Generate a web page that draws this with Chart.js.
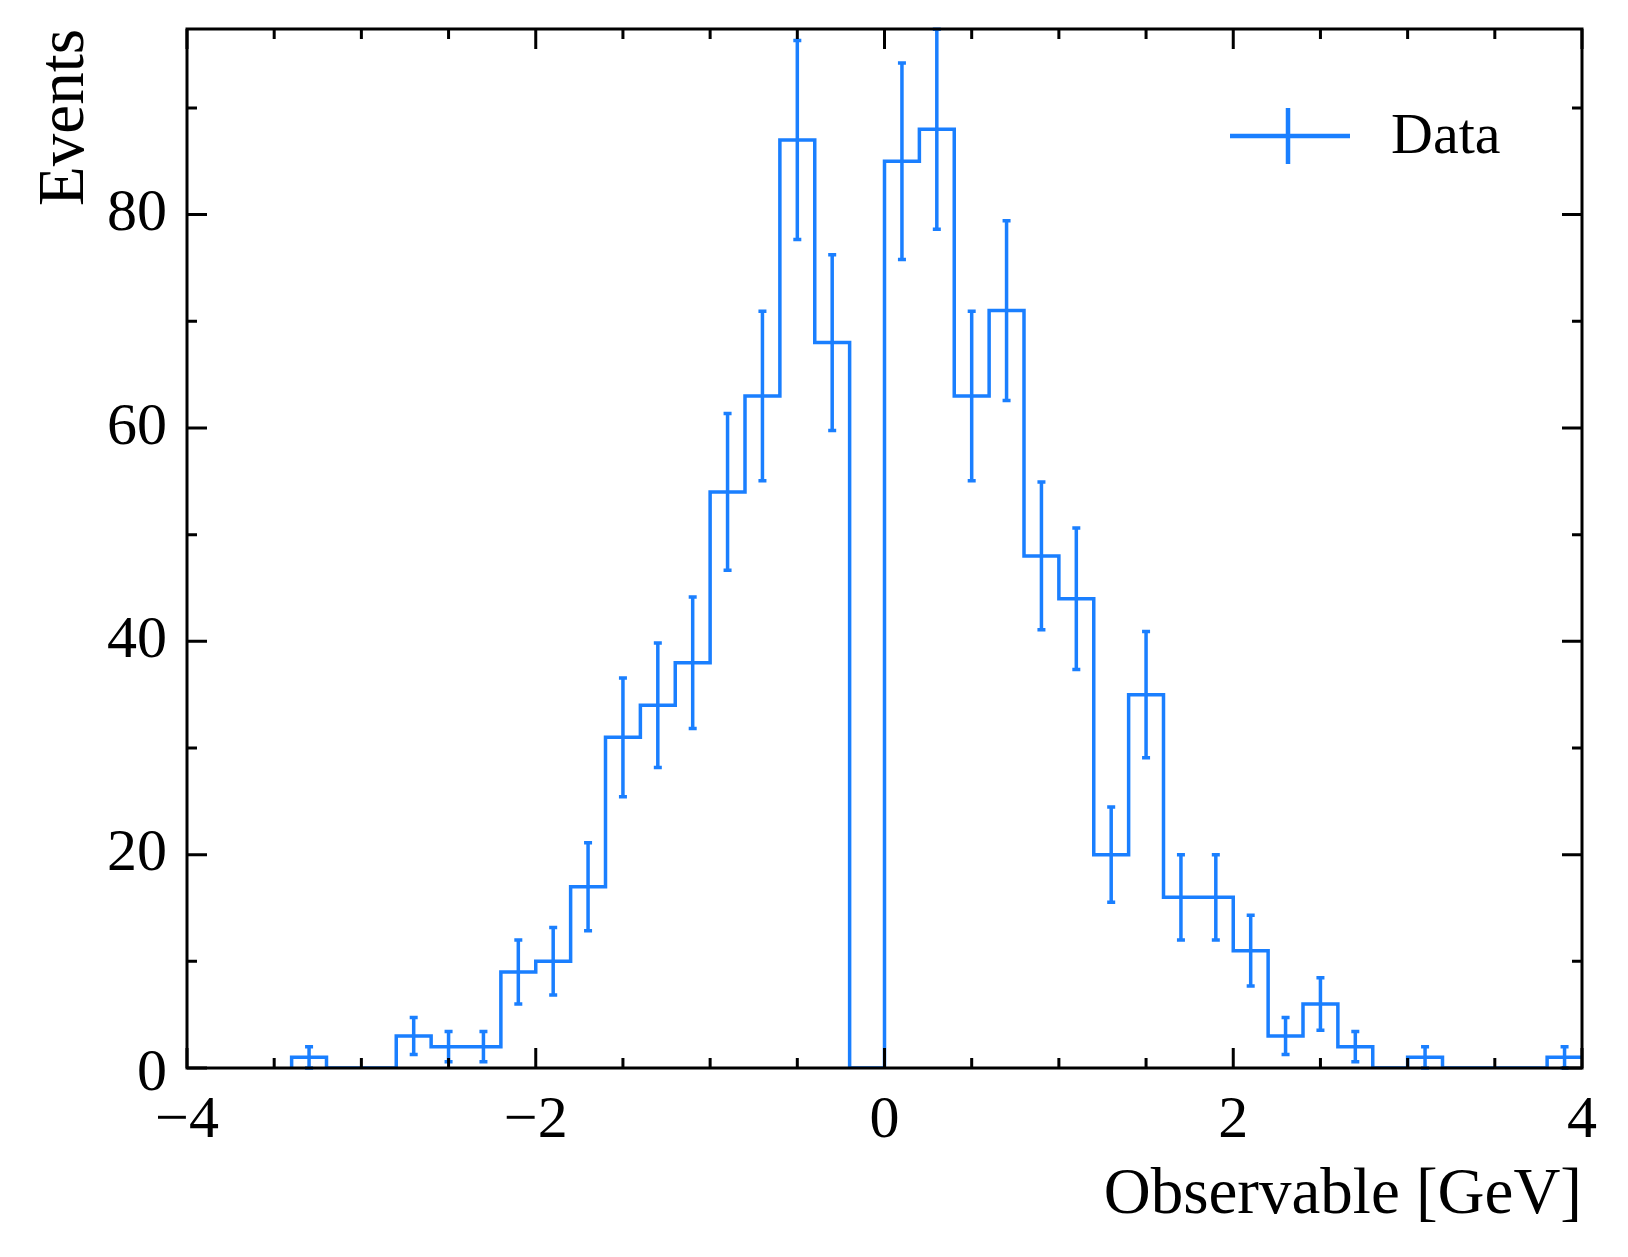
<!DOCTYPE html>
<html><head><meta charset="utf-8">
<script src="https://cdn.jsdelivr.net/npm/chart.js@4"></script>
<style>body{margin:0;background:#fff}</style>
</head><body>
<canvas id="c" width="1628" height="1257"></canvas>
<script>
// bin centres (width 0.2) and event counts
const binCenters = [-3.3,-3.1,-2.9,-2.7,-2.5,-2.3,-2.1,-1.9,-1.7,-1.5,-1.3,-1.1,-0.9,-0.7,-0.5,-0.3,-0.1,
  0.1,0.3,0.5,0.7,0.9,1.1,1.3,1.5,1.7,1.9,2.1,2.3,2.5,2.7,2.9,3.1,3.3,3.5,3.7,3.9];
const counts = [1,0,0,3,2,2,9,10,17,31,34,38,54,63,87,68,0,
  85,88,63,71,48,44,20,35,16,16,11,3,6,2,0,1,0,0,0,1];
const xTicks = [-4,-2,0,2,4];
const yTicks = [0,20,40,60,80];
const binWidth = 0.2;
const color = "#1a7fff";
const serif = "'Liberation Serif', 'DejaVu Serif', serif";

const stepPts = [{x: binCenters[0] - binWidth/2, y: 0}];
binCenters.forEach(function (c, i) {
  stepPts.push({x: c - binWidth/2, y: counts[i]});
  stepPts.push({x: c + binWidth/2, y: counts[i]});
});

const decor = {
  id: "decor",
  afterDatasetsDraw: function (chart) {
    const ctx = chart.ctx, xs = chart.scales.x, ys = chart.scales.y, a = chart.chartArea;
    ctx.save();
    // error bars
    ctx.strokeStyle = color; ctx.lineWidth = 3.5;
    binCenters.forEach(function (c, i) {
      const n = counts[i];
      if (n <= 0) return;
      const e = Math.sqrt(n), px = xs.getPixelForValue(c);
      const y1 = Math.min(a.bottom, ys.getPixelForValue(n - e)), y2 = Math.max(a.top, ys.getPixelForValue(n + e));
      ctx.beginPath(); ctx.moveTo(px, y1); ctx.lineTo(px, y2);
      if (ys.getPixelForValue(n - e) <= a.bottom) { ctx.moveTo(px-4, y1); ctx.lineTo(px+4, y1); }
      if (ys.getPixelForValue(n + e) >= a.top) { ctx.moveTo(px-4, y2); ctx.lineTo(px+4, y2); }
      ctx.stroke();
    });
    // frame and ticks
    ctx.strokeStyle = "#000"; ctx.lineWidth = 3;
    ctx.strokeRect(a.left, a.top, a.right - a.left, a.bottom - a.top);
    ctx.beginPath();
    for (let v = -4; v <= 4.001; v += 0.5) {
      const px = xs.getPixelForValue(v), L = Math.abs(v % 2) < 1e-6 ? 20 : 10;
      ctx.moveTo(px, a.bottom); ctx.lineTo(px, a.bottom - L);
      ctx.moveTo(px, a.top); ctx.lineTo(px, a.top + L);
    }
    for (let v = 0; v <= 97; v += 10) {
      const py = ys.getPixelForValue(v), L = v % 20 === 0 ? 20 : 10;
      ctx.moveTo(a.left, py); ctx.lineTo(a.left + L, py);
      ctx.moveTo(a.right, py); ctx.lineTo(a.right - L, py);
    }
    ctx.stroke();
    // tick labels
    ctx.fillStyle = "#000"; ctx.font = "60px " + serif;
    ctx.textAlign = "center"; ctx.textBaseline = "middle";
    xTicks.forEach(function (v) {
      ctx.fillText(v < 0 ? "\u2212" + Math.abs(v) : String(v), xs.getPixelForValue(v), 1121);
    });
    ctx.textAlign = "right";
    yTicks.forEach(function (v) {
      ctx.fillText(String(v), a.left - 20, ys.getPixelForValue(v) + (v === 0 ? 6 : 0));
    });
    // axis titles
    ctx.font = "65px " + serif;
    ctx.textAlign = "right"; ctx.textBaseline = "alphabetic";
    ctx.fillText("Observable [GeV]", a.right, 1213);
    ctx.save(); ctx.translate(83, a.top); ctx.rotate(-Math.PI/2);
    ctx.fillText("Events", 0, 0); ctx.restore();
    // legend
    ctx.strokeStyle = color; ctx.lineWidth = 4.5;
    ctx.beginPath(); ctx.moveTo(1230, 136); ctx.lineTo(1350, 136);
    ctx.moveTo(1288, 108); ctx.lineTo(1288, 164); ctx.stroke();
    ctx.font = "58px " + serif; ctx.textAlign = "left"; ctx.textBaseline = "middle";
    ctx.fillText("Data", 1391, 138);
    ctx.restore();
  }
};

new Chart(document.getElementById("c").getContext("2d"), {
  type: "line",
  data: { datasets: [{ data: stepPts, borderColor: color, borderWidth: 3.5, pointRadius: 0, fill: false, tension: 0 }] },
  options: {
    responsive: false, animation: false, devicePixelRatio: 1,
    layout: { padding: { left: 187, right: 46, top: 29, bottom: 189 } },
    plugins: { legend: { display: false }, tooltip: { enabled: false } },
    scales: {
      x: { type: "linear", min: -4, max: 4, display: false },
      y: { type: "linear", min: 0, max: 97.4, display: false }
    }
  },
  plugins: [decor]
});
</script>
</body></html>
